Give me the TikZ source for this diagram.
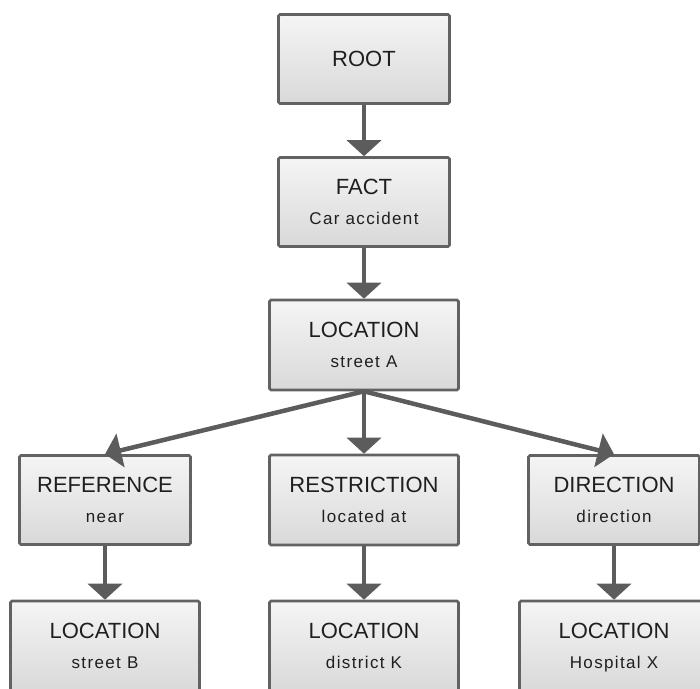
\documentclass[tikz,border=0pt]{standalone}
\usepackage{fontspec}
\setmainfont{Liberation Sans}
\newfontfamily\subfont[LetterSpace=8]{Liberation Sans}
\usepackage{tikz}
\usetikzlibrary{arrows.meta,shapes,positioning}
\definecolor{boxline}{HTML}{626262}
\definecolor{arrowgray}{HTML}{5C5C5C}
\tikzstyle{smallbox} = [rectangle, rounded corners=1.5pt, minimum width=171pt, minimum height=89pt, align=center, text depth=0pt, font=\fontsize{22}{30}\selectfont, text=black!88, draw=boxline, line width=2.6pt, top color=black!4, bottom color=black!15]
\tikzstyle{bigbox} = [smallbox, minimum width=189pt, minimum height=90pt]
\tikzstyle{arrow} = [line width=4.5pt, draw=arrowgray, -{Triangle[width=34pt,length=16pt]}]
\newcommand{\sub}[1]{{\subfont\fontsize{17}{30}\selectfont #1}}

\begin{document}
\begin{tikzpicture}[node distance=143pt]
\useasboundingbox (0,0) rectangle (700pt,-688pt);

\node (root) [smallbox] at (364pt,-59pt) {ROOT};
\node (fact) [smallbox, below of=root] {FACT\\\sub{Car accident}};
\node (locA) [bigbox, below of=fact] {LOCATION\\\sub{street A}};

\node (restr) [bigbox, below of=locA, yshift=-12pt] {RESTRICTION\\\sub{located at}};
\node (ref) [smallbox, left of=restr, xshift=-116pt] {REFERENCE\\\sub{near}};
\node (dir) [smallbox, right of=restr, xshift=107pt] {DIRECTION\\\sub{direction}};

\node (locB) [bigbox, below of=ref, yshift=-3pt] {LOCATION\\\sub{street B}};
\node (locK) [bigbox, below of=restr, yshift=-3pt] {LOCATION\\\sub{district K}};
\node (locX) [bigbox, below of=dir, yshift=-3pt] {LOCATION\\\sub{Hospital X}};

\draw [arrow] (root) -- (fact);
\draw [arrow] (fact) -- (locA);

\draw [arrow] (locA.south) -- (ref.north);
\draw [arrow] (locA) -- (restr);
\draw [arrow] (locA.south) -- (dir.north);

\draw [arrow] (ref) -- (locB);
\draw [arrow] (restr) -- (locK);
\draw [arrow] (dir) -- (locX);

\end{tikzpicture}
\end{document}
